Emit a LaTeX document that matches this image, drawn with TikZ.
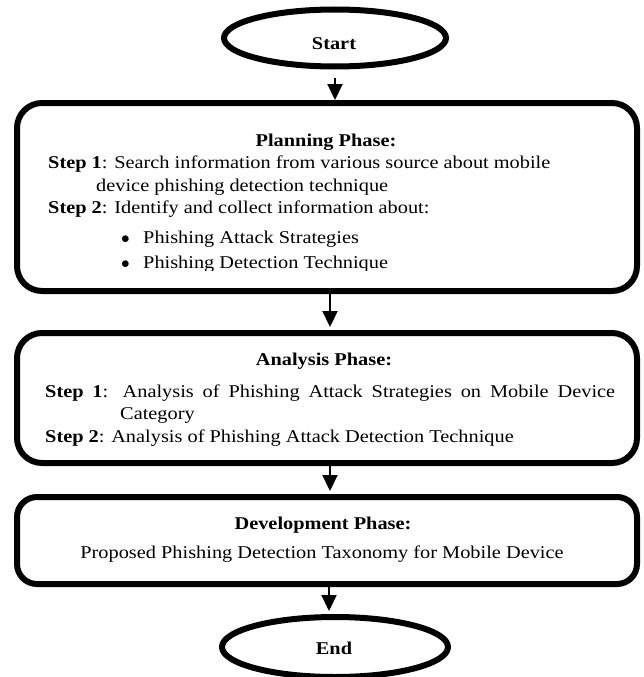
\documentclass[tikz,border=0pt]{standalone}
\usepackage{fontspec}
\setmainfont{Liberation Serif}[FakeStretch=1.13]
\usetikzlibrary{shapes.geometric,arrows.meta}
\begin{document}
\begin{tikzpicture}[x=1pt,y=-1pt,
  phasebox/.style={draw, line width=6pt, rounded corners=25pt, minimum width=620pt, inner sep=0pt},
  term/.style={draw, ellipse, line width=6pt, minimum width=222pt, minimum height=57pt, inner sep=0pt},
  txt/.style={anchor=base west, inner sep=0pt, font=\fontsize{18}{22}\selectfont},
  ctxt/.style={anchor=base, inner sep=0pt, font=\fontsize{18}{22}\selectfont},
  arr/.style={line width=2.2pt, -{Triangle[length=16pt,width=15pt]}}]
\clip (0,0) rectangle (643,677);
\fill[white] (0,0) rectangle (643,677);

% terminals
\node[term] (start) at (335,38) {};
\node[ctxt] (startlbl) at (334,49) {\textbf{Start}};
\node[term, minimum width=226pt, minimum height=60pt] (end) at (335,647) {};
\node[ctxt] (endlbl) at (334,654) {\textbf{End}};

% phase boxes
\node[phasebox, minimum height=188pt] (plan) at (327,197) {};
\node[phasebox, minimum height=130pt] (ana) at (327,398) {};
\node[phasebox, minimum height=87pt, rounded corners=20pt] (dev) at (327,540.5) {};

% planning text
\node[ctxt] (pH) at (326,146) {\textbf{Planning Phase:}};
\node[txt] (p1) at (48,168) {\textbf{Step 1}: Search information from various source about mobile};
\node[txt] (p1b) at (96,191) {device phishing detection technique};
\node[txt] (p2) at (48,213) {\textbf{Step 2}: Identify and collect information about:};
\node[txt] (pb1) at (121,243) {\makebox[22pt][l]{$\bullet$}Phishing Attack Strategies};
\begin{scope}
\clip (20,250) rectangle (630,270.5);
\node[txt] (pb2) at (121,268.5) {\makebox[22pt][l]{$\bullet$}Phishing Detection Technique};
\end{scope}

% analysis text
\node[ctxt] (aH) at (324,365) {\textbf{Analysis Phase:}};
\node[txt] (a1) at (45,397) {\makebox[570pt][s]{\textbf{Step 1}: Analysis of Phishing Attack Strategies on Mobile Device}};
\node[txt] (a1b) at (120,419) {Category};
\begin{scope}
\clip (20,425) rectangle (630,445);
\node[txt] (a2) at (45,442) {\textbf{Step 2}: Analysis of Phishing Attack Detection Technique};
\end{scope}

% development text
\node[ctxt] (dH) at (323,529) {\textbf{Development Phase:}};
\node[ctxt] (d1) at (322,558) {Proposed Phishing Detection Taxonomy for Mobile Device};

% connectors
\draw[arr, shorten <=8pt] (start.south) -- (start.south |- plan.north);
\draw[arr, shorten >=3pt] ([xshift=3pt]plan.south) -- ([xshift=3pt]ana.north);
\draw[arr, shorten >=3pt] ([xshift=3pt]ana.south) -- ([xshift=3pt]dev.north);
\draw[arr, shorten >=3pt] ([xshift=2pt]dev.south) -- ([xshift=2pt]dev.south |- end.north);
\end{tikzpicture}
\end{document}
